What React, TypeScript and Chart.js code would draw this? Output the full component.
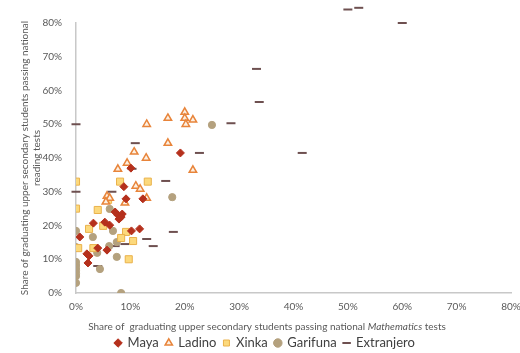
import React, { useEffect, useRef } from 'react';
import { Chart, registerables } from 'chart.js';

Chart.register(...registerables);

// [math %, reading %]
const mayaPoints: number[][] = [
  [19.2, 41.5], [10.1, 37], [8.8, 31.5], [9.2, 27.9], [12.3, 27.9],
  [7.2, 24], [7.7, 23.1], [8.5, 23.4], [8.3, 22.5], [7.9, 21.9],
  [3.2, 20.7], [5.3, 21], [6.2, 20.1], [10.2, 18.4], [11.7, 19],
  [0.7, 16.6], [4, 13.3], [5.7, 12.7], [2, 11.6], [2.4, 11], [2.2, 8.9],
];
const ladinoPoints: number[][] = [
  [13, 50], [16.9, 51.8], [20, 53.6], [20, 51.8], [21.5, 51.3], [20.2, 50],
  [16.9, 44.4], [10.7, 41.8], [12.9, 40], [9.4, 38.5], [7.7, 36.7], [21.5, 36.4],
  [11, 31.7], [11.8, 30.8], [5.7, 28.7], [6.2, 28.1], [5.5, 27], [9, 26.7], [13, 28.1],
];
const xinkaPoints: number[][] = [
  [0, 33], [8.1, 33], [13.2, 33], [0, 25], [4, 24.6], [5.9, 27.6], [5, 19.9],
  [2.4, 19], [9.2, 18.1], [8.3, 16.3], [10.5, 15.4], [0.4, 13.3], [3.2, 13.3], [9.7, 10],
];
const garifunaPoints: number[][] = [
  [25, 49.8], [17.7, 28.4], [6.2, 24.9], [0, 18.4], [6.8, 18.4], [3.1, 16.6],
  [7.5, 15.1], [6.1, 13.9], [0, 13.6], [3.9, 11.9], [7.5, 10.7], [4.4, 7.1],
  [0, 9.2], [0, 8.3], [0, 7.5], [0, 6.7], [0, 5.8], [0, 5], [0, 3], [8.3, 0],
];
const extranjeroPoints: number[][] = [
  [0, 50], [0, 30], [50, 84], [52, 84.5], [60, 80], [33.2, 66.4], [33.7, 56.6],
  [28.5, 50.3], [22.7, 41.5], [41.6, 41.5], [10.9, 44.4], [10.3, 36.8], [6.6, 30],
  [16.5, 33.2], [17.9, 18.1], [13, 16], [14.2, 13.9], [9, 14.5], [7.2, 13.9], [4, 8],
];

const axisTicks = [0, 10, 20, 30, 40, 50, 60, 70, 80];
const yTitleLines = ['Share of graduating upper secondary students passing national', 'reading tests'];
const xTitleParts = [
  { text: 'Share of  graduating upper secondary students passing national ', italic: false },
  { text: 'Mathematics', italic: true },
  { text: ' tests', italic: false },
];

const FONT = 'Lato, "Open Sans", sans-serif';
const TEXT = '#595959';

const toXY = (arr: number[][]) => arr.map(([x, y]) => ({ x, y }));

// Let the points that sit above the 80% line (as in the source) still be drawn.
const overflowPlugin = {
  id: 'overflowPoints',
  beforeDatasetDraw(chart: any) {
    chart.$savedTop = chart.chartArea.top;
    chart.chartArea.top = 0;
  },
  afterDatasetDraw(chart: any) {
    chart.chartArea.top = chart.$savedTop;
  },
};

const xTitlePlugin = {
  id: 'xTitleMixed',
  afterDraw(chart: any) {
    const ctx = chart.ctx as CanvasRenderingContext2D;
    const size = 10;
    const y = chart.chartArea.bottom + 34;
    ctx.save();
    ctx.fillStyle = TEXT;
    ctx.textBaseline = 'middle';
    ctx.textAlign = 'left';
    const widths = xTitleParts.map((p) => {
      ctx.font = `${p.italic ? 'italic ' : ''}${size}px ${FONT}`;
      return ctx.measureText(p.text).width;
    });
    const total = widths.reduce((a, b) => a + b, 0);
    let x = 267 - total / 2;
    xTitleParts.forEach((p, i) => {
      ctx.font = `${p.italic ? 'italic ' : ''}${size}px ${FONT}`;
      ctx.fillText(p.text, x, y);
      x += widths[i];
    });
    ctx.restore();
  },
};

export default function App() {
  const ref = useRef<HTMLCanvasElement | null>(null);
  useEffect(() => {
    if (!ref.current) return;
    const chart = new Chart(ref.current, {
      type: 'scatter',
      data: {
        datasets: [
          {
            label: 'Maya', data: toXY(mayaPoints), pointStyle: 'rectRot', pointRadius: 4,
            backgroundColor: '#b5301c', borderColor: '#b5301c', borderWidth: 1,
          },
          {
            label: 'Ladino', data: toXY(ladinoPoints), pointStyle: 'triangle', pointRadius: 4.3,
            backgroundColor: '#fdf0e2', borderColor: '#e8843a', borderWidth: 1.5,
          },
          {
            label: 'Xinka', data: toXY(xinkaPoints), pointStyle: 'rect', pointRadius: 5,
            backgroundColor: '#fcd97c', borderColor: '#eab24c', borderWidth: 1,
          },
          {
            label: 'Garifuna', data: toXY(garifunaPoints), pointStyle: 'circle', pointRadius: 3.6,
            backgroundColor: '#b4a17e', borderColor: '#b4a17e', borderWidth: 1,
          },
          {
            label: 'Extranjero', data: toXY(extranjeroPoints), pointStyle: 'line', pointRadius: 4.5,
            backgroundColor: '#6e5050', borderColor: '#6e5050', borderWidth: 2, clip: false as any,
          },
        ],
      },
      options: {
        animation: false,
        responsive: true,
        maintainAspectRatio: false,
        layout: { padding: { top: 23, right: 9, left: 19, bottom: -6.5 } },
        plugins: {
          tooltip: { enabled: false },
          legend: {
            position: 'bottom',
            labels: {
              usePointStyle: true,
              boxWidth: 6,
              boxHeight: 6,
              padding: 7,
              color: '#404040',
              font: { family: FONT, size: 13 },
            },
          },
        },
        scales: {
          x: {
            type: 'linear', min: 0, max: 80,
            afterBuildTicks: (s: any) => { s.ticks = axisTicks.map((v) => ({ value: v })); },
            afterFit: (s: any) => { s.height = 36.5; s.paddingLeft = 0; s.paddingRight = 0; },
            grid: { display: false, drawTicks: false },
            border: { display: true, color: '#c8c8c8', width: 1.5 },
            ticks: { callback: (v: any) => v + '%', color: TEXT, font: { family: FONT, size: 10 }, padding: 8 },
          },
          y: {
            type: 'linear', min: 0, max: 80,
            afterBuildTicks: (s: any) => { s.ticks = axisTicks.map((v) => ({ value: v })); },
            afterFit: (s: any) => { s.width = 57; s.paddingTop = 0; s.paddingBottom = 0; },
            grid: { display: false, drawTicks: false },
            border: { display: true, color: '#c8c8c8', width: 1.5 },
            ticks: { callback: (v: any) => v + '%', color: TEXT, font: { family: FONT, size: 10 }, padding: 14 },
            title: {
              display: true, text: yTitleLines, color: TEXT,
              font: { family: FONT, size: 10 }, padding: { top: 0, bottom: 0 },
            },
          },
        },
      },
      plugins: [overflowPlugin, xTitlePlugin],
    });
    return () => chart.destroy();
  }, []);
  return (
    <div style={{ position: 'fixed', left: 0, top: 0, width: 520, height: 353, background: '#fff' }}>
      <canvas ref={ref} />
    </div>
  );
}
